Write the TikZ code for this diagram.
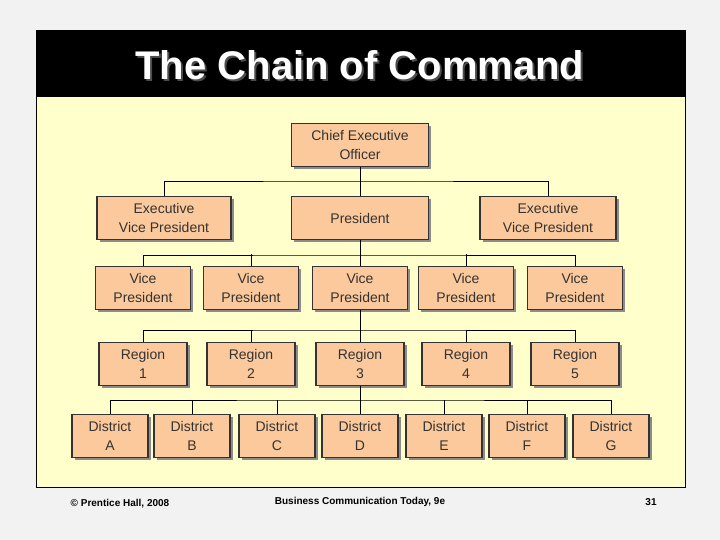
\documentclass[tikz,border=0pt]{standalone}
\usepackage{fontspec}
\setmainfont{Liberation Sans}
\usetikzlibrary{positioning,shadows}
\definecolor{peach}{HTML}{FBC99C}
\definecolor{cream}{HTML}{FFFFCC}
\definecolor{inkgray}{HTML}{333333}
\tikzset{
  orgbox/.style={draw=black!80, line width=1.2pt, fill=peach, minimum height=43pt,
    align=center, font=\fontsize{14}{19}\selectfont, text=inkgray, inner sep=1pt,
    drop shadow={shadow xshift=2.5pt, shadow yshift=-2.5pt, fill=black!45, opacity=1}},
  link/.style={black, line width=0.8pt},
  foot/.style={font=\bfseries\fontsize{10}{12}\selectfont},
}
\begin{document}
\begin{tikzpicture}[x=1pt,y=-1pt]
\useasboundingbox (0,0) rectangle (720,540);
\fill[black!5] (0,0) rectangle (720,540);
% slide panel
\fill[cream] (36,97) rectangle (685,487);
\fill[black] (36,30) rectangle (685,97);
\draw[black, line width=0.8pt] (36,30) rectangle (685,487);
\node[text=black!70, font=\bfseries\fontsize{40}{44}\selectfont] at (362,67) {The Chain of Command};
\node (title) [text=white, font=\bfseries\fontsize{40}{44}\selectfont] at (360,65) {The Chain of Command};

% top levels
\node (ceo) [orgbox, minimum width=137pt] at (360,145) {Chief Executive\\Officer};
\node (pres) [orgbox, minimum width=137pt] at (360,218) {President};
\node (evpl) [orgbox, minimum width=134pt] at (164,218) {Executive\\Vice President};
\node (evpr) [orgbox, minimum width=136pt] at (548,218) {Executive\\Vice President};

% vice presidents and regions
\foreach \i/\x in {1/143,2/251,3/360,4/466,5/575} {
  \node (vp\i) [orgbox, minimum width=95pt] at (\x,288) {Vice\\President};
  \node (reg\i) [orgbox, minimum width=88pt] at (\x,364) {Region\\\i};
}
% districts
\foreach \i/\x/\l in {1/110/A,2/192/B,3/277/C,4/360/D,5/444/E,6/527/F,7/611/G}
  \node (dis\i) [orgbox, minimum width=76pt] at (\x,436) {District\\\l};

% connectors
\draw[link] (ceo.south) -- (pres.north);
\draw[link] (evpl.north) |- (360,181) -| (evpr.north);
\draw[link] (pres.south) -- (vp3.north);
\draw[link] (vp1.north) |- (360,255) -| (vp5.north);
\foreach \i in {2,4} \draw[link] (vp\i.north) -- ++(0,-12);
\draw[link] (vp3.south) -- (reg3.north);
\draw[link] (reg1.north) |- (360,330) -| (reg5.north);
\foreach \i in {2,4} \draw[link] (reg\i.north) -- ++(0,-12);
\draw[link] (reg3.south) -- (dis4.north);
\draw[link] (dis1.north) |- (360,400) -| (dis7.north);
\foreach \i in {2,3,5,6} \draw[link] (dis\i.north) -- ++(0,-14);

% footer
\node (copy) [foot] at (120,504) {© Prentice Hall, 2008};
\node (book) [foot] at (360,502) {Business Communication Today, 9e};
\node (page) [foot] at (651,502) {31};
\end{tikzpicture}
\end{document}
